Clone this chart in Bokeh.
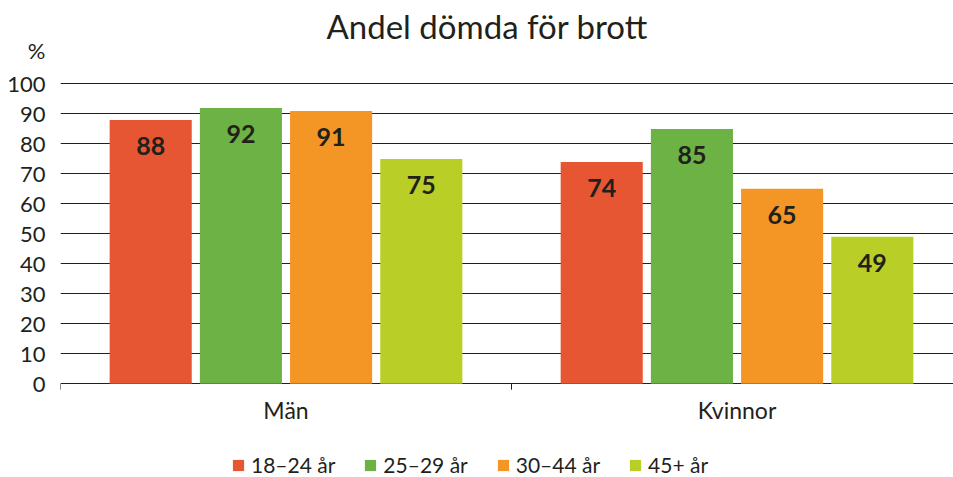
from bokeh.plotting import figure
from bokeh.models import ColumnDataSource, Range1d, FixedTicker, Legend, LegendItem
from bokeh.core.properties import value
from bokeh.embed import file_html
from bokeh.resources import INLINE

# ---- data ----
categories = ["Män", "Kvinnor"]
series_names = ["18–24 år", "25–29 år", "30–44 år", "45+ år"]
v_18_24 = [88, 74]
v_25_29 = [92, 85]
v_30_44 = [91, 65]
v_45_plus = [75, 49]
series_values = [v_18_24, v_25_29, v_30_44, v_45_plus]
colors = ["#E65633", "#6CB245", "#F39625", "#B9CF28"]
y_ticks = list(range(0, 101, 10))
unit_label = "%"
unit_pos = 111

TEXT = "#231f1a"
FONT = "Lato"

# frame spans the whole lower area; the region below 0 holds the
# category labels and the legend
p = figure(width=953, height=477,
           x_range=Range1d(0, 1.980), y_range=Range1d(-31.3, 111.5),
           output_backend="svg", toolbar_location=None,
           x_axis_location=None,
           min_border_left=60, min_border_right=0,
           min_border_top=48, min_border_bottom=0)
p.outline_line_color = None
p.background_fill_color = "white"
p.border_fill_color = "white"
p.xgrid.grid_line_color = None
p.xgrid.visible = False

# title
p.title.text = "Andel dömda för brott"
p.title.align = "left"
p.title.offset = 266
p.title.standoff = 7
p.title.text_font = FONT
p.title.text_font_style = "normal"
p.title.text_font_size = "33px"
p.title.text_color = TEXT

# y axis (with the unit label on top)
yax = p.yaxis[0]
yax.ticker = FixedTicker(ticks=y_ticks + [unit_pos])
yax.major_label_overrides = {unit_pos: unit_label}
yax.axis_line_color = None
yax.major_tick_line_color = None
yax.minor_tick_line_color = None
yax.major_tick_out = 0
yax.major_label_text_font = FONT
yax.major_label_text_font_size = "22px"
yax.major_label_text_color = TEXT
yax.major_label_standoff = 15

p.ygrid.ticker = FixedTicker(ticks=y_ticks)
p.ygrid.grid_line_color = TEXT
p.ygrid.grid_line_width = 1

# category axis: labels at centers, small ticks at group boundaries
centers = [i + 0.5 for i in range(len(categories))]
bounds = [float(i) for i in range(len(categories) + 1)]
tick_len = 2.0
p.segment(x0=bounds, y0=[0] * len(bounds), x1=bounds,
          y1=[-tick_len] * len(bounds), line_color=TEXT, line_width=1)
p.text(x=centers, y=[0] * len(centers), text=categories, y_offset=26,
       text_align="center", text_baseline="middle",
       text_font=value(FONT), text_font_size="23px", text_color=TEXT)

bar_w = 0.182
n = len(series_names)
items = []
for k, (name, vals, col) in enumerate(zip(series_names, series_values, colors)):
    off = (k - (n - 1) / 2) * 0.2
    xs = [c + off for c in centers]
    src = ColumnDataSource(dict(x=xs, top=vals, lab=[str(v) for v in vals]))
    r = p.vbar(x="x", top="top", width=bar_w, bottom=0, source=src,
               fill_color=col, line_color=None)
    p.text(x="x", y="top", text="lab", source=src, y_offset=26,
           text_align="center", text_baseline="middle",
           text_font=value(FONT), text_font_style="bold",
           text_font_size="25px", text_color=TEXT)
    items.append(LegendItem(label=name, renderers=[r]))

legend = Legend(items=items, orientation="horizontal", location=(171, 0),
                glyph_width=14, glyph_height=14, label_standoff=6, spacing=28,
                padding=0, margin=0, border_line_color=None,
                background_fill_alpha=0,
                label_text_font=FONT, label_text_font_size="21px",
                label_text_color=TEXT)
p.add_layout(legend, "center")

open("out.html", "w").write(file_html(p, INLINE))
